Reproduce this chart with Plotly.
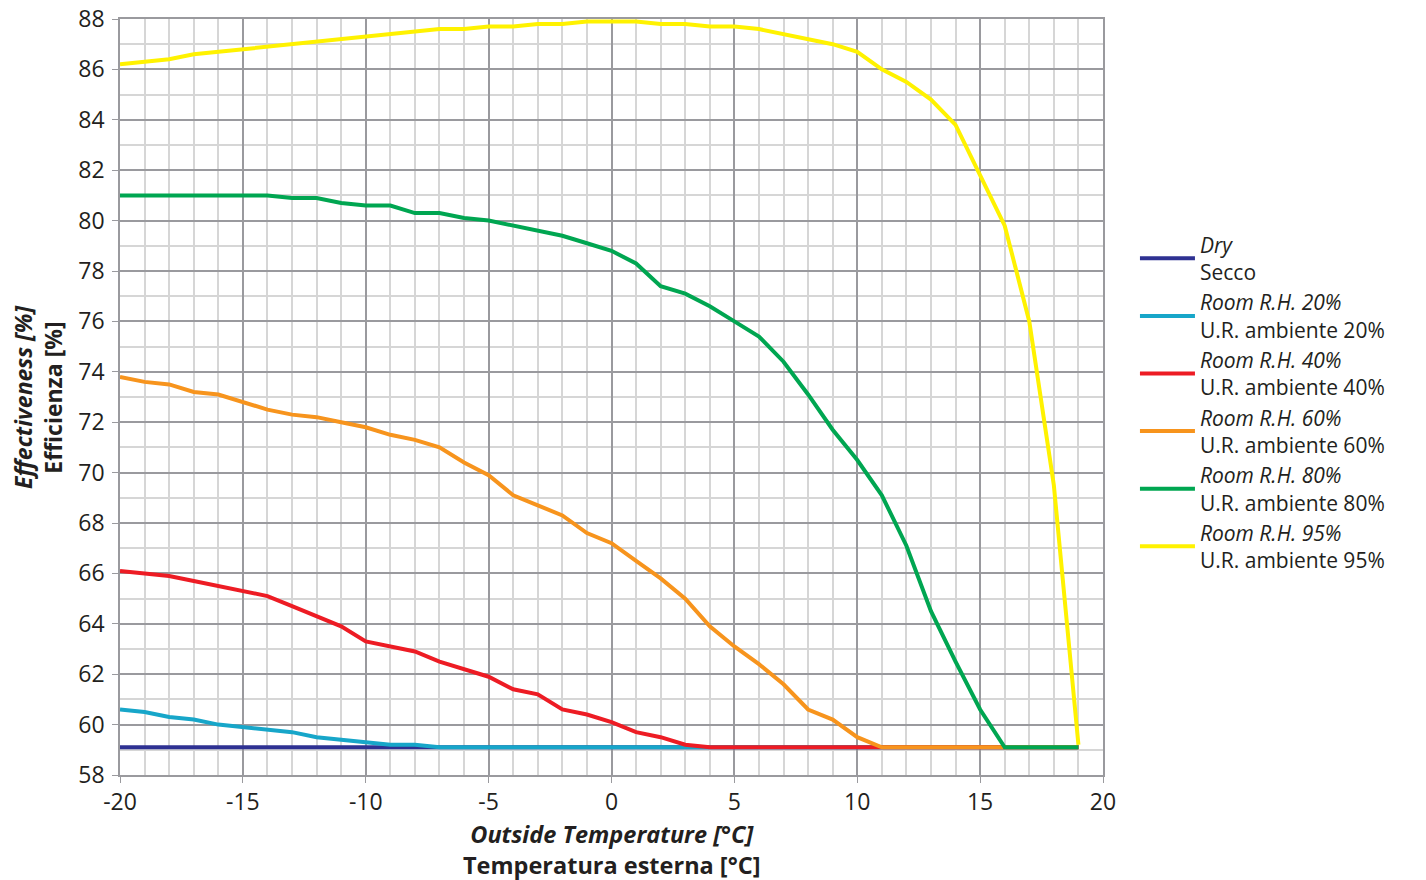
"""Effectiveness vs outside temperature for different room R.H. levels"""

import plotly.graph_objects as go

temps = list(range(-20, 20))

dry = [59.1, 59.1, 59.1, 59.1, 59.1, 59.1, 59.1, 59.1, 59.1, 59.1,
       59.1, 59.1, 59.1, 59.1, 59.1, 59.1, 59.1, 59.1, 59.1, 59.1,
       59.1, 59.1, 59.1, 59.1, 59.1, 59.1, 59.1, 59.1, 59.1, 59.1,
       59.1, 59.1, 59.1, 59.1, 59.1, 59.1, 59.1, 59.1, 59.1, 59.1]
rh20 = [60.6, 60.5, 60.3, 60.2, 60.0, 59.9, 59.8, 59.7, 59.5, 59.4,
        59.3, 59.2, 59.2, 59.1, 59.1, 59.1, 59.1, 59.1, 59.1, 59.1,
        59.1, 59.1, 59.1, 59.1, 59.1, 59.1, 59.1, 59.1, 59.1, 59.1,
        59.1, 59.1, 59.1, 59.1, 59.1, 59.1, 59.1, 59.1, 59.1, 59.1]
rh40 = [66.1, 66.0, 65.9, 65.7, 65.5, 65.3, 65.1, 64.7, 64.3, 63.9,
        63.3, 63.1, 62.9, 62.5, 62.2, 61.9, 61.4, 61.2, 60.6, 60.4,
        60.1, 59.7, 59.5, 59.2, 59.1, 59.1, 59.1, 59.1, 59.1, 59.1,
        59.1, 59.1, 59.1, 59.1, 59.1, 59.1, 59.1, 59.1, 59.1, 59.1]
rh60 = [73.8, 73.6, 73.5, 73.2, 73.1, 72.8, 72.5, 72.3, 72.2, 72.0,
        71.8, 71.5, 71.3, 71.0, 70.4, 69.9, 69.1, 68.7, 68.3, 67.6,
        67.2, 66.5, 65.8, 65.0, 63.9, 63.1, 62.4, 61.6, 60.6, 60.2,
        59.5, 59.1, 59.1, 59.1, 59.1, 59.1, 59.1, 59.1, 59.1, 59.1]
rh80 = [81.0, 81.0, 81.0, 81.0, 81.0, 81.0, 81.0, 80.9, 80.9, 80.7,
        80.6, 80.6, 80.3, 80.3, 80.1, 80.0, 79.8, 79.6, 79.4, 79.1,
        78.8, 78.3, 77.4, 77.1, 76.6, 76.0, 75.4, 74.4, 73.1, 71.7,
        70.5, 69.1, 67.1, 64.5, 62.5, 60.6, 59.1, 59.1, 59.1, 59.1]
rh95 = [86.2, 86.3, 86.4, 86.6, 86.7, 86.8, 86.9, 87.0, 87.1, 87.2,
        87.3, 87.4, 87.5, 87.6, 87.6, 87.7, 87.7, 87.8, 87.8, 87.9,
        87.9, 87.9, 87.8, 87.8, 87.7, 87.7, 87.6, 87.4, 87.2, 87.0,
        86.7, 86.0, 85.5, 84.8, 83.8, 81.8, 79.8, 76.0, 69.5, 59.2]

x_ticks = [-20, -15, -10, -5, 0, 5, 10, 15, 20]
x_tick_labels = ["-20", "-15", "-10", "-5", "0", "5", "10", "15", "20"]

series = [
    ("<i>Dry</i><br>Secco", dry, "#2E3192"),
    ("<i>Room R.H. 20%</i><br>U.R. ambiente 20%", rh20, "#17A6C9"),
    ("<i>Room R.H. 40%</i><br>U.R. ambiente 40%", rh40, "#ED1C24"),
    ("<i>Room R.H. 60%</i><br>U.R. ambiente 60%", rh60, "#F7941D"),
    ("<i>Room R.H. 80%</i><br>U.R. ambiente 80%", rh80, "#00A651"),
    ("<i>Room R.H. 95%</i><br>U.R. ambiente 95%", rh95, "#FFF200"),
]

fig = go.Figure()
for name, vals, color in series:
    fig.add_scatter(
        x=temps,
        y=vals,
        mode="lines",
        name=name,
        line={"color": color, "width": 4},
    )

font = "Open Sans, Noto Sans, sans-serif"
text_col = "#231F20"
major = "#9A9A9E"
minor = "#D6D6D6"

fig.update_layout(
    width=1426,
    height=880,
    margin={"l": 120, "r": 323, "t": 19, "b": 105},
    paper_bgcolor="white",
    plot_bgcolor="white",
    font={"family": font, "size": 21, "color": text_col},
    legend={
        "xref": "container",
        "yref": "container",
        "x": 0.7959,
        "y": 0.7449,
        "xanchor": "left",
        "yanchor": "top",
        "font": {"size": 21, "color": text_col},
        "itemwidth": 55,
        "tracegroupgap": 0,
        "bgcolor": "rgba(0,0,0,0)",
    },
)

axis_style = dict(
    showgrid=True,
    gridcolor=major,
    gridwidth=1.5,
    zeroline=False,
    showline=True,
    linecolor=major,
    linewidth=1.5,
    mirror=True,
    ticks="outside",
    ticklen=6,
    tickcolor=major,
    tickfont={"size": 23},
    ticklabeloverflow="allow",
    automargin=False,
)

fig.update_xaxes(
    range=[-20, 20],
    tickvals=x_ticks,
    ticktext=x_tick_labels,
    minor={"dtick": 1, "showgrid": True, "gridcolor": minor, "gridwidth": 1.5},
    **axis_style,
)
fig.update_yaxes(
    range=[58, 88],
    dtick=2,
    ticklabelstandoff=3,
    minor={"dtick": 1, "showgrid": True, "gridcolor": minor, "gridwidth": 1.5},
    **axis_style,
)

# axis titles as annotations so they sit where the original puts them
fig.add_annotation(
    text="<b><i>Outside Temperature [°C]</i></b><br><b>Temperatura esterna [°C]</b>",
    xref="paper", yref="paper", x=0.5, y=0,
    xanchor="center", yanchor="top", yshift=-41,
    showarrow=False, font={"size": 23.5},
)
fig.add_annotation(
    text="<b><i>Effectiveness [%]</i></b><br><b>Efficienza [%]</b>",
    xref="paper", yref="paper", x=0, y=0.5,
    xanchor="center", yanchor="middle", xshift=-82,
    textangle=-90, showarrow=False, font={"size": 23},
)

# drop the default body margin so the figure fills the window
fig.write_html(
    "out.html",
    config={"displayModeBar": False},
    post_script="document.body.style.margin = '0';",
)
